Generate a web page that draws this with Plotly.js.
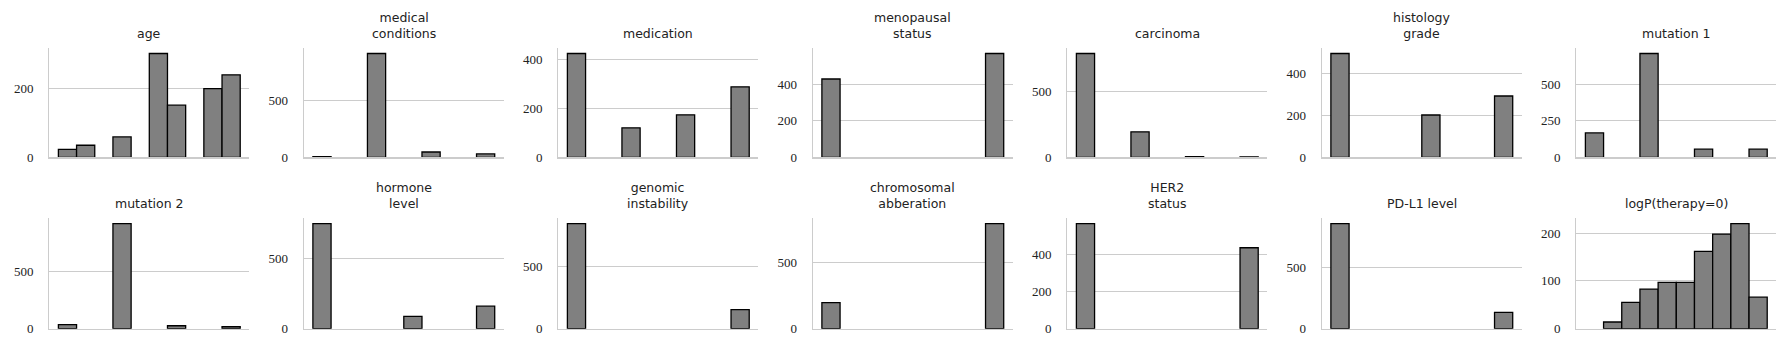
<!DOCTYPE html>
<html>
<head>
<meta charset="utf-8">
<script src="https://cdn.plot.ly/plotly-3.0.1.min.js"></script>
<style>
  html, body { margin: 0; padding: 0; background: #ffffff; }
  #chart { width: 1789px; height: 349px; }
</style>
</head>
<body>
<div id="chart"></div>
<script>
// ---- data: histogram counts per bin (10 bins each) ----
const titles = [
  "age", "medical<br>conditions", "medication", "menopausal<br>status",
  "carcinoma", "histology<br>grade", "mutation 1",
  "mutation 2", "hormone<br>level", "genomic<br>instability", "chromosomal<br>abberation",
  "HER2<br>status", "PD-L1 level", "logP(therapy=0)"
];
const age                = [23, 35, 0, 59, 0, 301, 151, 0, 199, 239];
const medicalConditions  = [5, 0, 0, 917, 0, 0, 47, 0, 0, 30];
const medication         = [423, 0, 0, 120, 0, 0, 173, 0, 0, 287];
const menopausalStatus   = [430, 0, 0, 0, 0, 0, 0, 0, 0, 570];
const carcinoma          = [791, 0, 0, 194, 0, 0, 5, 0, 0, 4];
const histologyGrade     = [498, 0, 0, 0, 0, 203, 0, 0, 0, 294];
const mutation1          = [167, 0, 0, 712, 0, 0, 56, 0, 0, 56];
const mutation2          = [35, 0, 0, 922, 0, 0, 26, 0, 0, 17];
const hormoneLevel       = [748, 0, 0, 0, 0, 88, 0, 0, 0, 160];
const genomicInstability = [845, 0, 0, 0, 0, 0, 0, 0, 0, 153];
const chromosomalAbb     = [198, 0, 0, 0, 0, 0, 0, 0, 0, 798];
const her2Status         = [565, 0, 0, 0, 0, 0, 0, 0, 0, 435];
const pdl1Level          = [865, 0, 0, 0, 0, 0, 0, 0, 0, 135];
const logPTherapy0       = [0, 14, 55, 83, 97, 97, 162, 198, 220, 66];
const yTickStep = [200, 500, 200, 200, 500, 200, 250, 500, 500, 500, 500, 200, 500, 100];

const series = [age, medicalConditions, medication, menopausalStatus, carcinoma,
  histologyGrade, mutation1, mutation2, hormoneLevel, genomicInstability,
  chromosomalAbb, her2Status, pdl1Level, logPTherapy0];

// ---- layout geometry (pixels) ----
const W = 1789, H = 349;
const panelW = 200, firstLeft = 49.3, stepX = 254.5;
const rows = [{top: 48.3, bottom: 157.3}, {top: 218.3, bottom: 328.7}];

const traces = [];
const layout = {
  width: W, height: H,
  margin: {l: 0, r: 0, t: 0, b: 0},
  paper_bgcolor: "#ffffff", plot_bgcolor: "#ffffff",
  showlegend: false,
  bargap: 0,
  annotations: []
};

series.forEach((counts, i) => {
  const row = Math.floor(i / 7), col = i % 7;
  const n = i + 1;
  const xa = n === 1 ? "xaxis" : "xaxis" + n;
  const ya = n === 1 ? "yaxis" : "yaxis" + n;
  const left = firstLeft + col * stepX;
  const x0 = left / W, x1 = (left + panelW) / W;
  const y0 = 1 - rows[row].bottom / H, y1 = 1 - rows[row].top / H;
  const nb = counts.length;
  const maxv = Math.max(...counts);

  traces.push({
    type: "bar",
    x: counts.map((c, k) => k + 0.5),
    y: counts.map(c => c > 0 ? c : null),
    width: 1,
    marker: {color: "#808080", line: {color: "#000000", width: 1.3}},
    xaxis: "x" + (n === 1 ? "" : n),
    yaxis: "y" + (n === 1 ? "" : n),
    hoverinfo: "skip"
  });

  layout[xa] = {
    domain: [x0, x1],
    anchor: "y" + (n === 1 ? "" : n),
    range: [-0.05 * nb, nb * 1.05],
    showgrid: false, zeroline: false,
    showticklabels: false, ticks: "",
    showline: true, linecolor: "#cccccc", linewidth: 1.25,
    fixedrange: true
  };
  layout[ya] = {
    domain: [y0, y1],
    anchor: "x" + (n === 1 ? "" : n),
    range: [0, maxv * 1.05],
    dtick: yTickStep[i], tick0: 0,
    showgrid: true, gridcolor: "#cccccc", gridwidth: 1,
    zeroline: false,
    ticks: "", ticklabelstandoff: 12,
    tickfont: {family: "Liberation Serif, DejaVu Serif, serif", size: 13, color: "#222222"},
    showline: true, linecolor: "#cccccc", linewidth: 1.25,
    fixedrange: true
  };
  layout.annotations.push({
    text: titles[i],
    xref: "paper", yref: "paper",
    x: (x0 + x1) / 2, y: y1,
    xanchor: "center", yanchor: "bottom",
    yshift: 5,
    showarrow: false,
    font: {family: "DejaVu Sans, sans-serif", size: 12.5, color: "#222222"}
  });
});

Plotly.newPlot("chart", traces, layout, {staticPlot: true, displayModeBar: false});
</script>
</body>
</html>
